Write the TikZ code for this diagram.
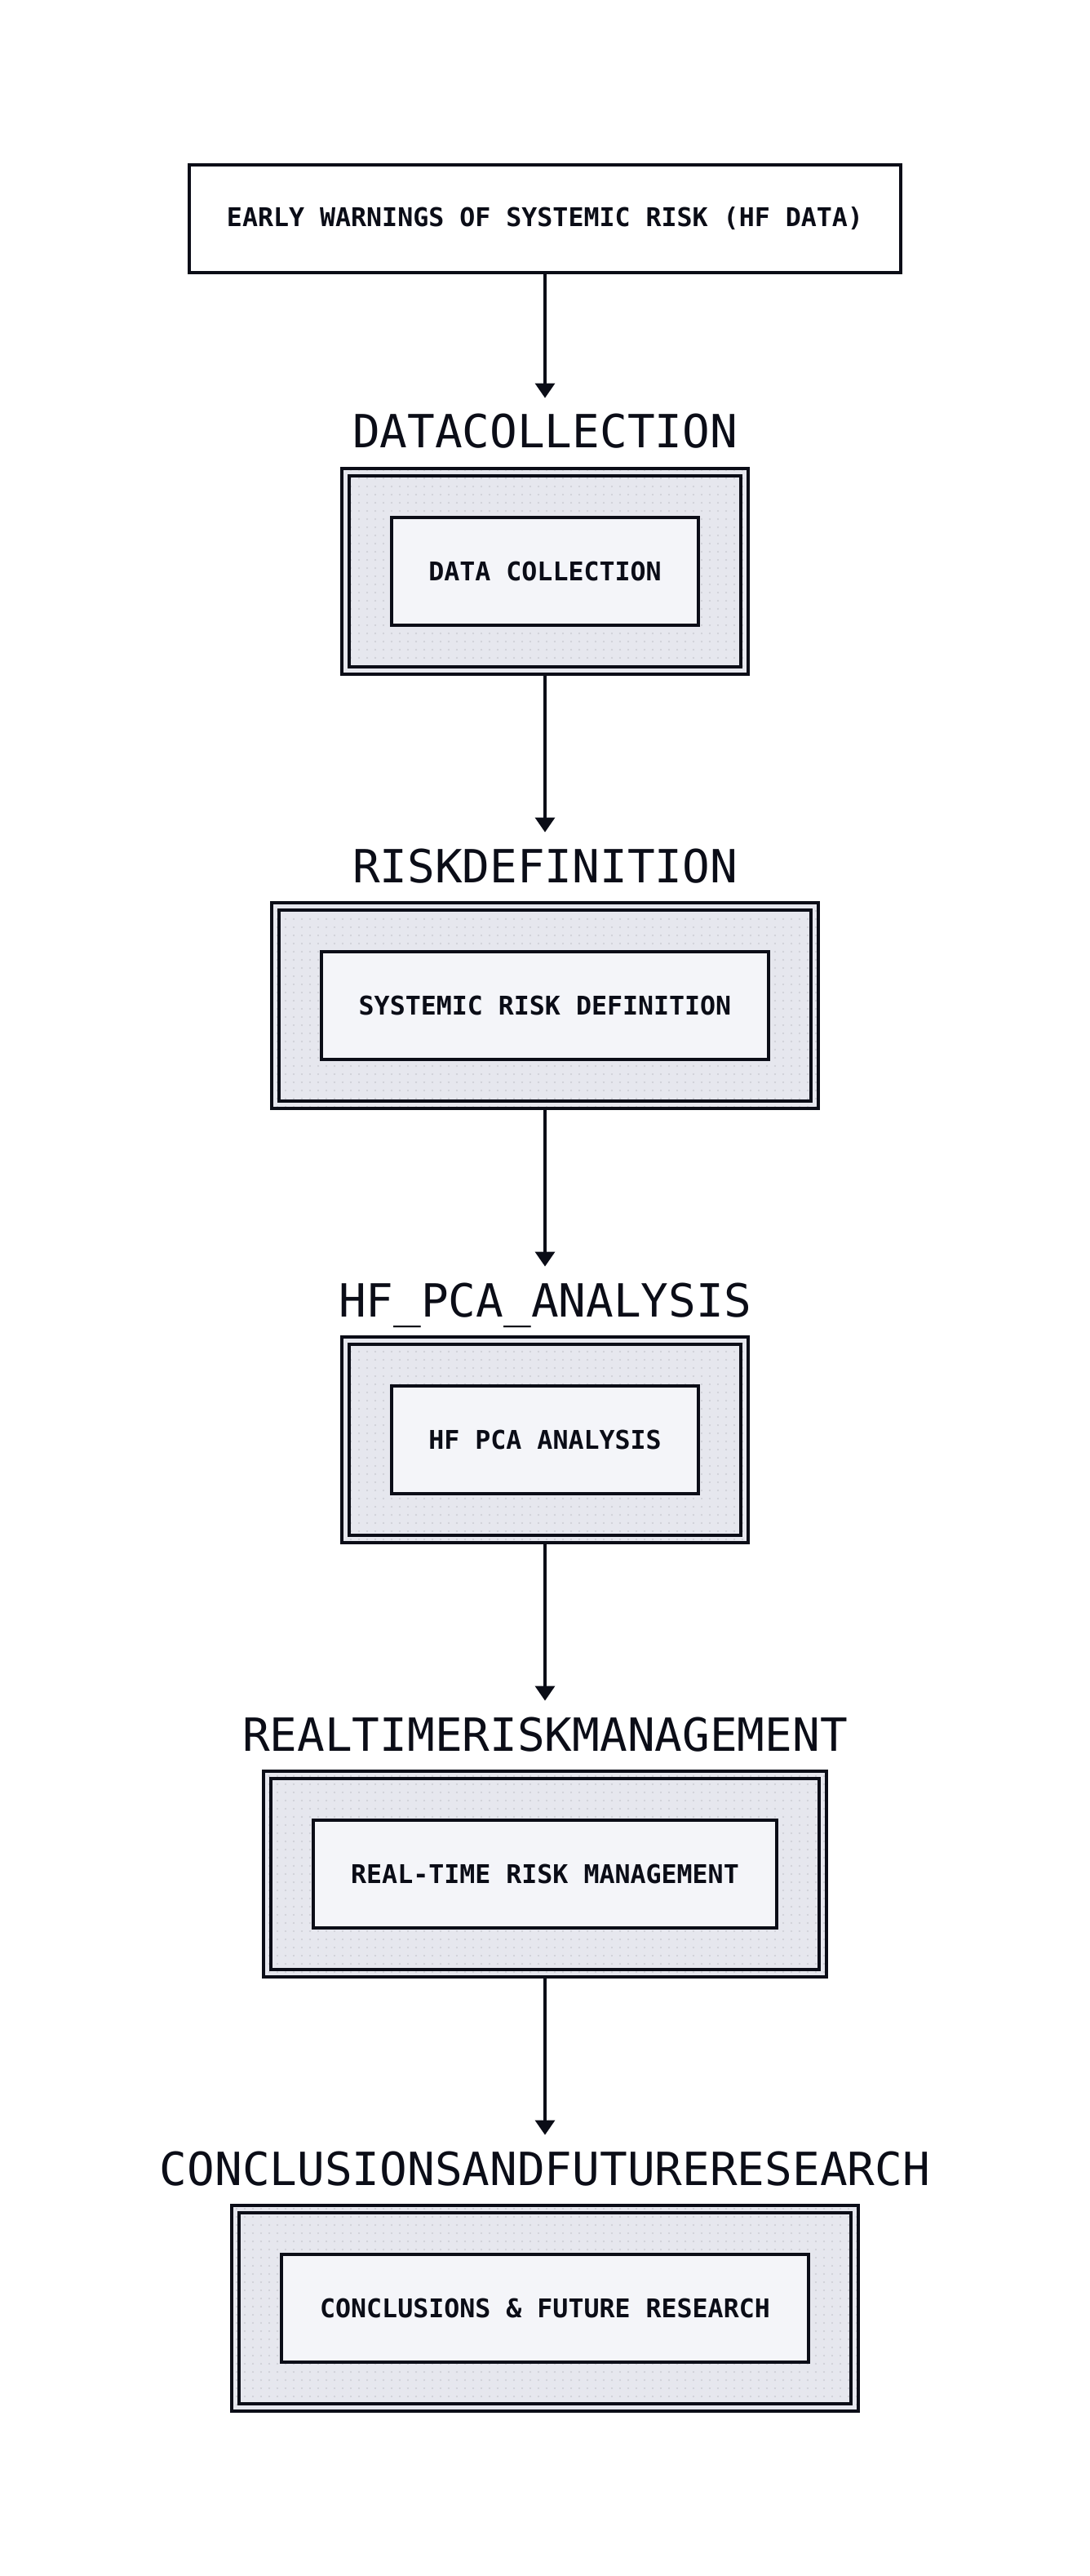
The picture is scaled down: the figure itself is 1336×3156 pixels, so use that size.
\documentclass[tikz,border=0pt]{standalone}
\usepackage{fontspec}
\setmonofont{DejaVu Sans Mono}
\usetikzlibrary{arrows.meta,patterns.meta}
\definecolor{ink}{HTML}{0B0D17}
\definecolor{framefill}{HTML}{E6E7EE}
\definecolor{boxfill}{HTML}{F4F5F9}
\definecolor{dotcol}{HTML}{CBCCD4}
\begin{document}
\begin{tikzpicture}[x=0.5pt,y=-0.5pt,
  frame/.style={draw=ink, line width=1.8pt, preaction={fill=framefill},
    pattern={Dots[distance=5pt,radius=0.55pt]}, pattern color=dotcol,
    minimum height=126pt, inner sep=0pt},
  frameline/.style={draw=ink, line width=1.8pt},
  stepbox/.style={draw=ink, line width=2pt, fill=boxfill, minimum height=66pt,
    inner sep=0pt, font=\ttfamily\bfseries\fontsize{15.8}{18}\selectfont, text=ink},
  topbox/.style={draw=ink, line width=1.8pt, fill=white, minimum height=66pt,
    minimum width=436pt, inner sep=0pt, font=\ttfamily\bfseries\fontsize{15.8}{18}\selectfont, text=ink},
  lab/.style={anchor=base, inner sep=0pt, text height=30.5pt, text depth=0pt,
    font=\ttfamily\fontsize{28}{32}\selectfont, text=ink},
  arr/.style={draw=ink, line width=1.6pt, -{Triangle[length=9pt,width=12pt]}}
]
\useasboundingbox[fill=white] (0,0) rectangle (1336,3156);

\node[topbox] (top) at (668,268) {EARLY WARNINGS OF SYSTEMIC RISK (HF DATA)};

% stage 1
\node[lab] (l1) at (668,549) {DATACOLLECTION};
\node[frame, minimum width=249pt] (f1) at (668,700) {};
\draw[frameline] ([shift={(11,11)}]f1.north west) rectangle ([shift={(-11,-11)}]f1.south east);
\node[stepbox, minimum width=188pt] (i1) at (668,700) {DATA COLLECTION};

% stage 2
\node[lab] (l2) at (668,1081) {RISKDEFINITION};
\node[frame, minimum width=335pt] (f2) at (668,1232) {};
\draw[frameline] ([shift={(11,11)}]f2.north west) rectangle ([shift={(-11,-11)}]f2.south east);
\node[stepbox, minimum width=274pt] (i2) at (668,1232) {SYSTEMIC RISK DEFINITION};

% stage 3
\node[lab] (l3) at (668,1613) {HF\_PCA\_ANALYSIS};
\node[frame, minimum width=249pt] (f3) at (668,1764) {};
\draw[frameline] ([shift={(11,11)}]f3.north west) rectangle ([shift={(-11,-11)}]f3.south east);
\node[stepbox, minimum width=188pt] (i3) at (668,1764) {HF PCA ANALYSIS};

% stage 4
\node[lab] (l4) at (668,2145) {REALTIMERISKMANAGEMENT};
\node[frame, minimum width=345pt] (f4) at (668,2296) {};
\draw[frameline] ([shift={(11,11)}]f4.north west) rectangle ([shift={(-11,-11)}]f4.south east);
\node[stepbox, minimum width=284pt] (i4) at (668,2296) {REAL-TIME RISK MANAGEMENT};

% stage 5
\node[lab] (l5) at (668,2677) {CONCLUSIONSANDFUTURERESEARCH};
\node[frame, minimum width=384pt] (f5) at (668,2828) {};
\draw[frameline] ([shift={(11,11)}]f5.north west) rectangle ([shift={(-11,-11)}]f5.south east);
\node[stepbox, minimum width=323pt] (i5) at (668,2828) {CONCLUSIONS \& FUTURE RESEARCH};

% connectors
\draw[arr] (top.south) -- (l1.north);
\draw[arr] (f1.south) -- (l2.north);
\draw[arr] (f2.south) -- (l3.north);
\draw[arr] (f3.south) -- (l4.north);
\draw[arr] (f4.south) -- (l5.north);
\end{tikzpicture}
\end{document}
